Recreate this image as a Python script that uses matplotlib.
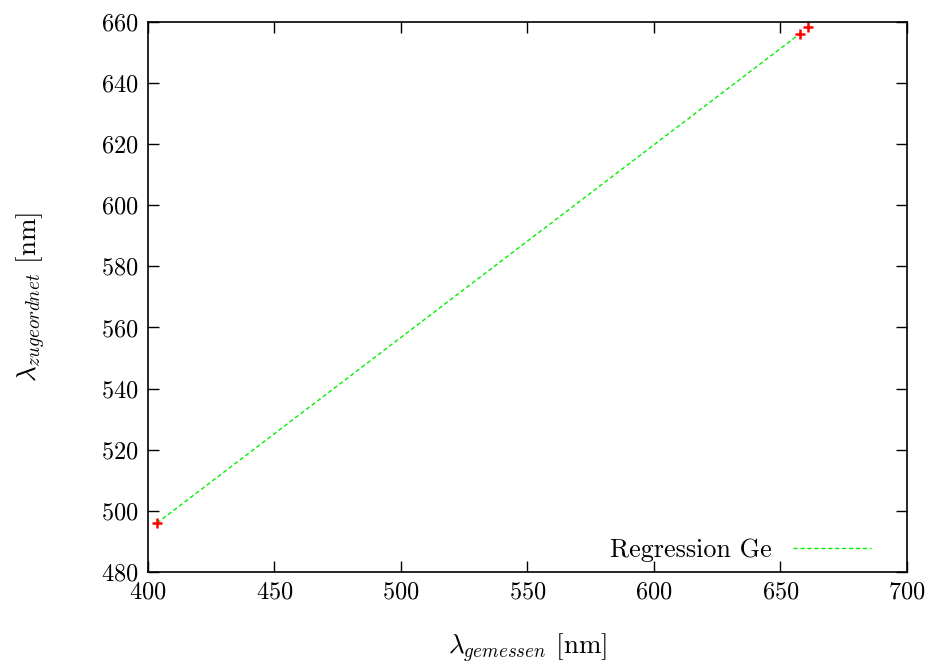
import numpy as np
import matplotlib
matplotlib.use("Agg")
import matplotlib.pyplot as plt

plt.rcParams['font.family'] = 'serif'
plt.rcParams['font.serif'] = ['cmr10', 'DejaVu Serif']
plt.rcParams['mathtext.fontset'] = 'cm'
plt.rcParams['axes.formatter.use_mathtext'] = True

# data
lam_gemessen = np.array([403.6, 657.7, 660.9])
lam_zugeordnet = np.array([496.0, 656.0, 658.3])
xticks = [400, 450, 500, 550, 600, 650, 700]
yticks = [480, 500, 520, 540, 560, 580, 600, 620, 640, 660]

fig = plt.figure(figsize=(9.36, 6.64), dpi=100)
ax = fig.add_axes([0.158, 0.1386, 0.811, 0.8284])

b, a = np.polyfit(lam_gemessen, lam_zugeordnet, 1)
xl = np.array([lam_gemessen[0], lam_gemessen[1]])
ax.plot(xl, a + b * xl, color='#00f000', lw=1.0, ls=(0, (3, 2)), label='Regression Ge')
ax.plot(lam_gemessen, lam_zugeordnet, ls='none', marker='+', color='red',
        markersize=7, markeredgewidth=1.8)

ax.set_xlim(400, 700)
ax.set_ylim(480, 660)
ax.set_xticks(xticks)
ax.set_yticks(yticks)
ax.tick_params(direction='in', top=True, right=True, length=8, width=1, labelsize=17.5, pad=7)
for s in ax.spines.values():
    s.set_linewidth(1.2)

ax.set_xlabel(r'$\lambda_{gemessen}$ [nm]', fontsize=19.5, labelpad=20)
ax.set_ylabel(r'$\lambda_{zugeordnet}$ [nm]', fontsize=19.5, labelpad=38)

leg = ax.legend(loc='lower right', frameon=False, fontsize=18.8, markerfirst=False,
                handlelength=3.0, handletextpad=0.8, borderaxespad=0.4,
                bbox_to_anchor=(0.98, -0.02))

fig.savefig('out.png', dpi=100)
